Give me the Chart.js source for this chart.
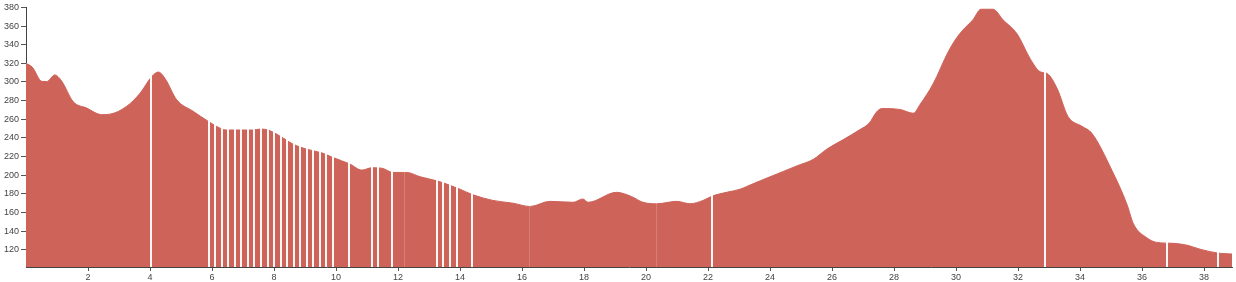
<!DOCTYPE html>
<html>
<head>
<meta charset="utf-8">
<script src="https://cdn.jsdelivr.net/npm/chart.js@4/dist/chart.umd.min.js"></script>
<style>
  html, body { margin: 0; padding: 0; background: #fff; }
  #wrap { width: 1236px; height: 282px; position: relative; }
</style>
</head>
<body>
<div id="wrap"><canvas id="c" width="1236" height="282"></canvas></div>
<script>
// Distance along the route (km)
const distKm = [
  0.00, 0.20, 0.52, 0.67, 0.93, 1.15, 1.52, 1.96, 2.44, 2.71,
  3.25, 3.68, 4.06, 4.27, 4.48, 4.86, 5.39, 5.87, 6.26, 6.47,
  7.32, 7.55, 7.81, 8.19, 8.61, 9.05, 9.54, 9.90, 10.45, 10.83,
  11.15, 11.47, 11.84, 12.28, 12.71, 13.25, 13.57, 14.00, 14.42, 15.06,
  15.71, 16.26, 16.90, 17.65, 17.96, 18.13, 19.05, 19.54, 19.90, 20.35,
  20.99, 21.42, 21.84, 22.16, 22.60, 23.03, 23.25, 23.68, 24.20, 24.86,
  25.39, 25.83, 26.35, 26.90, 27.20, 27.44, 27.60, 28.19, 28.62, 28.84,
  29.26, 29.74, 29.97, 30.20, 30.55, 30.80, 31.19, 31.52, 31.97, 32.39,
  32.71, 32.94, 33.26, 33.61, 34.06, 34.38, 35.03, 35.51, 35.72, 36.15,
  36.47, 37.00, 37.45, 37.87, 38.45, 38.90
];
// Elevation (m)
const elevM = [
  320, 316, 300.5, 300.5, 307.6, 301, 279, 272, 265, 265.5,
  274, 288, 306, 310.7, 304, 281, 268.6, 258, 250.5, 248.5,
  248.5, 249.5, 248.5, 242, 233.5, 228, 224, 219, 212, 205.5,
  208, 207.6, 203, 203, 198.4, 194, 190.5, 185, 179, 173,
  170, 166.5, 172, 171, 174.5, 171, 181.7, 177, 171, 169.4,
  172, 169.4, 173, 178, 181.7, 185, 188, 194, 201, 210,
  217, 228, 238, 249, 256, 268, 271.5, 270.5, 266.5, 276,
  298, 332, 345, 355, 367, 378, 378, 366.5, 351.5, 325,
  311, 309, 293, 263, 252.5, 245, 205, 169, 148, 133,
  128, 127, 125, 120.7, 116.5, 115.5
];
// Segment breaks (km), drawn as white vertical lines
const gapKm = [
  4.03, 5.90, 6.11, 6.32, 6.53, 6.74, 6.95, 7.16, 7.37, 7.58,
  7.79, 8.00, 8.21, 8.42, 8.63, 8.84, 9.05, 9.26, 9.47, 9.68,
  9.89, 10.42, 11.16, 11.35, 11.81, 13.26, 13.45, 13.68, 13.90, 14.39,
  22.13, 32.87, 36.81, 38.45
];
// Very faint segment breaks (km)
const faintGapKm = [12.19, 16.23, 20.32];
// Axis ticks
const xTicks = [2, 4, 6, 8, 10, 12, 14, 16, 18, 20, 22, 24, 26, 28, 30, 32, 34, 36, 38];
const yTicks = [120, 140, 160, 180, 200, 220, 240, 260, 280, 300, 320, 340, 360, 380];

const points = distKm.map((d, i) => ({ x: d, y: elevM[i] }));

const gapPlugin = {
  id: 'gaps',
  afterDatasetsDraw(chart) {
    const { ctx, chartArea, scales } = chart;
    const xs = scales.x;
    ctx.save();
    ctx.beginPath();
    ctx.rect(chartArea.left, chartArea.top, chartArea.right - chartArea.left, chartArea.bottom - chartArea.top);
    ctx.clip();
    const draw = (list, color, width) => {
      ctx.strokeStyle = color;
      ctx.lineWidth = width;
      list.forEach(k => {
        const px = Math.round(xs.getPixelForValue(k)) + (width % 2 ? 0.5 : 0);
        ctx.beginPath();
        ctx.moveTo(px, chartArea.bottom);
        ctx.lineTo(px, chartArea.top);
        ctx.stroke();
      });
    };
    draw(faintGapKm, 'rgba(255,255,255,0.18)', 1);
    draw(gapKm, 'rgba(255,255,255,0.95)', 2);
    ctx.restore();
  }
};

const fontSpec = { family: "'Liberation Sans', Arial, sans-serif", size: 9 };

new Chart(document.getElementById('c'), {
  type: 'line',
  data: {
    datasets: [{
      data: points,
      fill: 'start',
      backgroundColor: 'rgb(206,99,89)',
      borderColor: 'rgb(206,99,89)',
      borderWidth: 1,
      pointRadius: 0,
      cubicInterpolationMode: 'monotone'
    }]
  },
  options: {
    responsive: false,
    animation: false,
    parsing: true,
    layout: { padding: { top: 5, right: 4, left: 0, bottom: 0 } },
    plugins: { legend: { display: false }, tooltip: { enabled: false } },
    scales: {
      x: {
        type: 'linear',
        min: 0,
        max: 38.9,
        afterBuildTicks: axis => { axis.ticks = xTicks.map(v => ({ value: v })); },
        afterFit: axis => { axis.height = 15; },
        grid: { drawOnChartArea: false, drawTicks: true, tickLength: 4, color: '#555' },
        border: { display: true, color: '#444', width: 1 },
        ticks: { color: '#444', font: fontSpec, padding: 1, maxRotation: 0, autoSkip: false }
      },
      y: {
        type: 'linear',
        min: 101.6,
        max: 380,
        afterBuildTicks: axis => { axis.ticks = yTicks.map(v => ({ value: v })); },
        afterFit: axis => { axis.width = 26; },
        grid: { drawOnChartArea: false, drawTicks: true, tickLength: 5, color: '#555' },
        border: { display: true, color: '#444', width: 1 },
        ticks: { color: '#444', font: fontSpec, padding: 2, autoSkip: false }
      }
    }
  },
  plugins: [gapPlugin]
});
</script>
</body>
</html>
